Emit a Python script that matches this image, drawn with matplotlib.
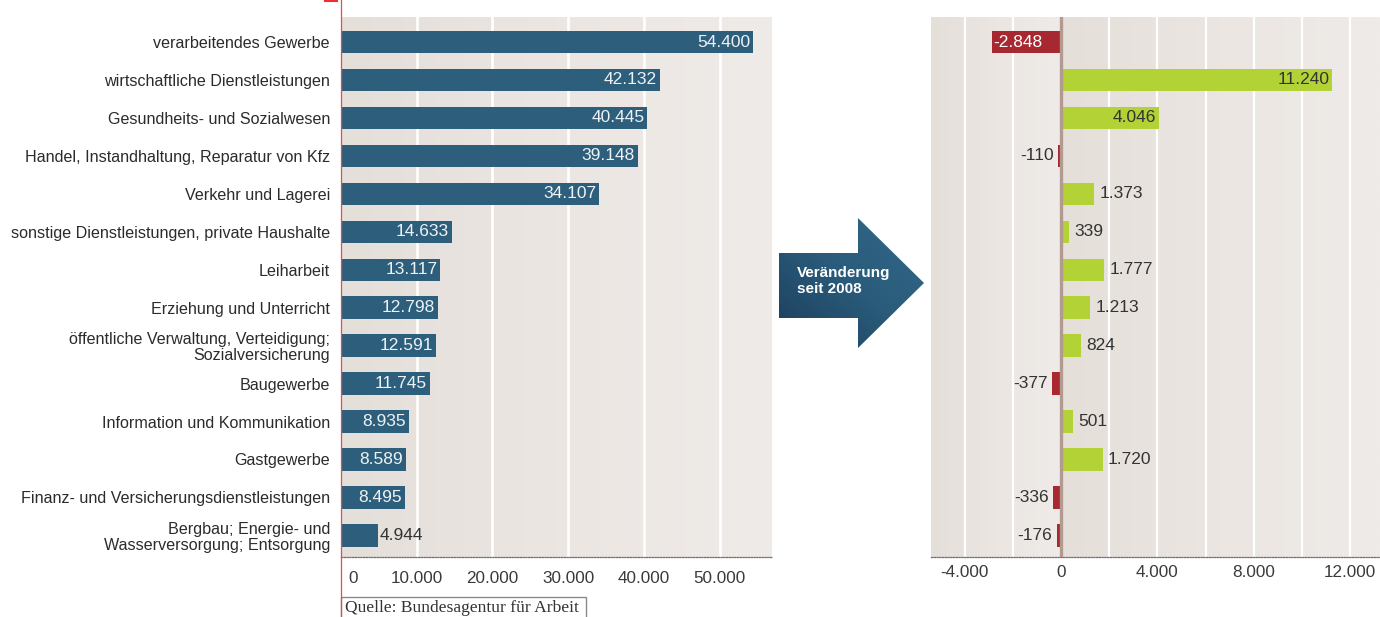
import numpy as np
import matplotlib
matplotlib.use("Agg")
import matplotlib.pyplot as plt
from matplotlib import font_manager
from matplotlib.colors import LinearSegmentedColormap
from matplotlib.patches import Polygon, Rectangle
from matplotlib.lines import Line2D
from matplotlib.transforms import ScaledTranslation

plt.rcParams["font.family"] = ["Liberation Sans", "DejaVu Sans"]

# Beschäftigte nach Wirtschaftszweigen und Veränderung seit 2008
categories = [
    "verarbeitendes Gewerbe",
    "wirtschaftliche Dienstleistungen",
    "Gesundheits- und Sozialwesen",
    "Handel, Instandhaltung, Reparatur von Kfz",
    "Verkehr und Lagerei",
    "sonstige Dienstleistungen, private Haushalte",
    "Leiharbeit",
    "Erziehung und Unterricht",
    "öffentliche Verwaltung, Verteidigung;\nSozialversicherung",
    "Baugewerbe",
    "Information und Kommunikation",
    "Gastgewerbe",
    "Finanz- und Versicherungsdienstleistungen",
    "Bergbau; Energie- und\nWasserversorgung; Entsorgung",
]
employees = [54400, 42132, 40445, 39148, 34107, 14633, 13117,
             12798, 12591, 11745, 8935, 8589, 8495, 4944]
change = [-2848, 11240, 4046, -110, 1373, 339, 1777,
          1213, 824, -377, 501, 1720, -336, -176]
left_ticks = [0, 10000, 20000, 30000, 40000, 50000]
right_ticks = [-4000, 0, 4000, 8000, 12000]
source = "Quelle: Bundesagentur für Arbeit"
arrow_text = "Veränderung\nseit 2008"

BLUE = "#2d5f7c"
RED = "#a82832"
GREEN = "#b2d235"
DARK = "#333333"
TEXT = "#2b2b2b"

# condensed face for category names and bar values, if available
try:
    font_manager.findfont("Liberation Sans Narrow", fallback_to_default=False)
    CAT_FONT = dict(family=["Liberation Sans Narrow", "DejaVu Sans"], size=13.8)
    VAL_FONT = dict(family=["Liberation Sans Narrow", "DejaVu Sans"], size=14.5)
except Exception:
    CAT_FONT = dict(family=["Liberation Sans", "DejaVu Sans"], size=11.6)
    VAL_FONT = dict(family=["Liberation Sans", "DejaVu Sans"], size=12.5)


def de(v):
    return f"{v:,}".replace(",", ".")


W, H = 1380, 617
fig = plt.figure(figsize=(W / 100, H / 100), dpi=100)


def frac(x0, y0, x1, y1):
    return [x0 / W, 1 - y1 / H, (x1 - x0) / W, (y1 - y0) / H]


bg = LinearSegmentedColormap.from_list("bg", ["#e5dfda", "#ebe6e2", "#efebe8"])
pos = np.arange(len(categories))
ylim = (len(categories) - 1 + 0.57, -0.66)
bar_h = 0.59


def background(ax, x0, x1):
    grad = np.linspace(0, 1, 256).reshape(1, -1)
    ax.imshow(grad, extent=(x0, x1, ylim[0], ylim[1]), aspect="auto",
              cmap=bg, zorder=0, interpolation="bilinear")


def dotted_base(ax):
    for s in ("top", "right", "left"):
        ax.spines[s].set_visible(False)
    sp = ax.spines["bottom"]
    sp.set_linestyle((0, (1, 1.2)))
    sp.set_color("#6e6e6e")
    sp.set_linewidth(0.9)


# ---- left panel: employees ----
axl = fig.add_axes(frac(341, 17, 772, 557))
xl = (0, 56900)
background(axl, *xl)
for t in range(10000, 60000, 10000):
    axl.axvline(t, color="white", lw=1.9, zorder=1)
axl.barh(pos, employees, height=bar_h, color=BLUE, zorder=2)
for i, v in enumerate(employees):
    if v > 7000:
        axl.text(v - 400, i, de(v), ha="right", va="center", color="#eef2f5",
                 zorder=3, **VAL_FONT)
    else:
        axl.text(v + 150, i, de(v), ha="left", va="center", color=DARK,
                 zorder=3, **VAL_FONT)
axl.set_xlim(*xl)
axl.set_ylim(*ylim)
axl.set_yticks(pos)
axl.set_yticklabels(categories, color=TEXT, linespacing=1.08, **CAT_FONT)
axl.tick_params(axis="y", length=0, pad=8)
axl.set_xticks(left_ticks)
axl.set_xticklabels([de(t) for t in left_ticks], fontsize=12.3, color="#3a3a3a")
axl.tick_params(axis="x", length=0, pad=10)
lab0 = axl.get_xticklabels()[0]
lab0.set_transform(lab0.get_transform() + ScaledTranslation(0.12, 0, fig.dpi_scale_trans))
dotted_base(axl)

# ---- right panel: change since 2008 ----
axr = fig.add_axes(frac(931, 17, 1380, 557))
xr = (-5400, 13240)
background(axr, xr[0], 0)
background(axr, 0, xr[1])
for t in range(-4000, 14000, 2000):
    if t != 0:
        axr.axvline(t, color="white", lw=1.6, zorder=1)
axr.barh(pos, change, height=bar_h,
         color=[GREEN if v > 0 else RED for v in change], zorder=2)
axr.axvline(0, color="#b39a90", lw=2.4, zorder=3)
for i, v in enumerate(change):
    if v <= -1000:
        axr.text(v + 40, i, de(v), ha="left", va="center", color="white",
                 zorder=4, **VAL_FONT)
    elif v < 0:
        axr.text(v - 180, i, de(v), ha="right", va="center", color=DARK,
                 zorder=4, **VAL_FONT)
    elif v >= 3000:
        axr.text(v - 100, i, de(v), ha="right", va="center", color=DARK,
                 zorder=4, **VAL_FONT)
    else:
        axr.text(v + 230, i, de(v), ha="left", va="center", color=DARK,
                 zorder=4, **VAL_FONT)
axr.set_xlim(*xr)
axr.set_ylim(*ylim)
axr.set_yticks([])
axr.set_xticks(right_ticks)
axr.set_xticklabels([de(t) for t in right_ticks], fontsize=12.3, color="#3a3a3a")
axr.tick_params(axis="x", length=0, pad=6)
dotted_base(axr)

# ---- overlay: axis rule, arrow, source box ----
top = fig.add_axes([0, 0, 1, 1], zorder=10)
top.set_xlim(0, W)
top.set_ylim(H, 0)
top.axis("off")
top.patch.set_alpha(0)

top.add_line(Line2D([341, 341], [0, H], color="#f04848", lw=0.9))
top.add_line(Line2D([325, 337], [0.6, 0.6], color="#f03030", lw=1.5))

arrow_pts = [(779, 253), (858, 253), (858, 218), (924, 283),
             (858, 348), (858, 318), (779, 318)]
arrow = Polygon(arrow_pts, closed=True, facecolor="none", edgecolor="none")
top.add_patch(arrow)
acmap = LinearSegmentedColormap.from_list("arr", ["#1c3d5c", "#2a5b7a", "#33698a"])
gx, gy = np.meshgrid(np.linspace(0, 1, 200), np.linspace(0, 1, 200))
grad = (gx + (1 - gy)) / 2
im = top.imshow(grad, extent=(779, 924, 348, 218), cmap=acmap, aspect="auto",
                interpolation="bilinear", zorder=1)
im.set_clip_path(arrow)
top.text(797, 281, arrow_text, color="white", fontsize=11, fontweight="bold",
         ha="left", va="center", linespacing=1.15, zorder=2)

top.add_patch(Rectangle((341, 597), 245, 24, facecolor="white",
                        edgecolor="#8a8a8a", lw=1.0, zorder=1))
top.text(345, 607.5, source, fontsize=12.6, family=["Liberation Serif", "DejaVu Serif"],
         color="#333333", ha="left", va="center", zorder=2)

fig.savefig("out.png", dpi=100)
